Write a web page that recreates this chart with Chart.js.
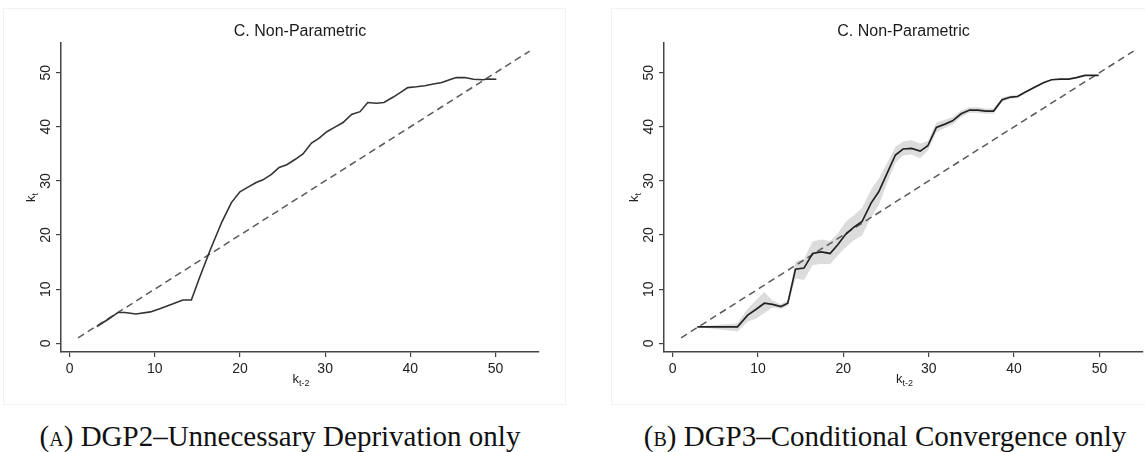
<!DOCTYPE html>
<html>
<head>
<meta charset="utf-8">
<script src="https://cdn.jsdelivr.net/npm/chart.js@4.4.1/dist/chart.umd.min.js"></script>
<style>
  html, body { margin: 0; padding: 0; background: #fff; }
  body { width: 1145px; height: 452px; position: relative; overflow: hidden; }
  .frame { position: absolute; border: 1px solid #f2f2f2; box-sizing: border-box; }
  canvas { position: absolute; top: 0; }
  .caption {
    position: absolute; top: 422px; text-align: center; white-space: nowrap; line-height: 29px;
    font-family: "Liberation Serif", "DejaVu Serif", serif; font-size: 29px; color: #111;
  }
  .sc { font-variant: small-caps; }
</style>
</head>
<body>
<div class="frame" style="left:3px; top:8px; width:563px; height:397px;"></div>
<div class="frame" style="left:611px; top:8px; width:540px; height:397px;"></div>
<canvas id="left" width="560" height="400" style="left:0px"></canvas>
<canvas id="right" width="545" height="400" style="left:600px"></canvas>
<div class="caption" style="left:20px; width:520px;">(<span class="sc">a</span>) DGP2–Unnecessary Deprivation only</div>
<div class="caption" style="left:625px; width:520px;">(<span class="sc">b</span>) DGP3–Conditional Convergence only</div>
<script>
// panel A: DGP2, non-parametric fit
const leftX = [3.2, 4.5, 5.7, 6.5, 7.8, 9.5, 10.6, 12.0, 13.3, 14.3, 15.3, 16.5, 17.9, 19.0, 20.0, 21.0, 21.9, 22.7, 23.7, 24.6,
  25.5, 26.5, 27.4, 28.4, 29.3, 30.2, 31.2, 32.1, 33.1, 34.1, 35.0, 36.0, 36.9, 38.0, 38.9, 39.7, 40.7, 41.7, 42.7, 43.7,
  44.6, 45.4, 46.4, 47.4, 48.5, 49.1, 50.1];
const leftY = [3.1, 4.4, 5.7, 5.7, 5.4, 5.8, 6.4, 7.2, 8.0, 8.0, 12.3, 17.2, 22.5, 26.0, 28.0, 28.9, 29.7, 30.2, 31.2, 32.5,
  33.0, 34.0, 35.0, 37.0, 37.9, 39.1, 40.0, 40.8, 42.3, 42.8, 44.5, 44.35, 44.5, 45.5, 46.4, 47.25, 47.4, 47.6, 47.9, 48.2,
  48.7, 49.1, 49.1, 48.8, 48.7, 48.85, 48.8];

// panel B: DGP3, fit with confidence band
const rightX = [2.9, 7.6, 8.8, 9.8, 10.75, 11.7, 12.7, 13.5, 14.4, 15.4, 16.4, 17.4, 18.45, 19.35, 20.25, 21.2, 22.2, 23.25,
  24.15, 25.1, 26.1, 27.0, 28.0, 29.0, 29.9, 30.9, 31.9, 32.8, 33.8, 34.8, 35.75, 36.7, 37.6, 38.6, 39.6, 40.4, 41.4, 42.4,
  43.5, 44.4, 45.4, 46.4, 47.3, 48.3, 49.2, 49.9];
const rightY = [3.05, 3.05, 5.2, 6.3, 7.4, 7.2, 6.8, 7.4, 13.7, 13.9, 16.6, 16.9, 16.6, 18.2, 20.1, 21.4, 22.5, 25.9,
  28.0, 31.3, 34.8, 35.9, 36.0, 35.5, 36.5, 39.9, 40.5, 41.1, 42.4, 43.1, 43.1, 42.9, 42.9, 45.0, 45.5, 45.6, 46.5, 47.3,
  48.2, 48.7, 48.8, 48.8, 49.1, 49.5, 49.5, 49.5];
const rightLo = [3.0, 2.2, 4.0, 4.6, 5.6, 6.6, 6.4, 6.9, 12.0, 11.7, 14.4, 14.7, 14.6, 16.2, 17.7, 19.0, 19.9, 23.3,
  25.5, 29.5, 33.3, 34.7, 34.9, 34.2, 35.6, 39.0, 39.8, 40.4, 41.8, 42.6, 42.6, 42.4, 42.4, 44.6, 45.2, 45.3, 46.3, 47.1,
  48.05, 48.6, 48.8, 48.8, 49.1, 49.5, 49.5, 49.5];
const rightHi = [3.1, 3.7, 6.4, 8.0, 9.5, 7.9, 7.2, 8.0, 15.1, 15.6, 18.8, 19.2, 18.9, 20.3, 22.4, 23.6, 25.0, 28.4,
  30.4, 33.2, 36.3, 37.3, 37.5, 36.9, 37.4, 40.8, 41.3, 41.8, 43.0, 43.6, 43.6, 43.4, 43.4, 45.4, 45.8, 45.9, 46.7, 47.5,
  48.35, 48.8, 48.8, 48.8, 49.1, 49.5, 49.5, 49.5];

// 45 degree reference line
const diagX = [1, 54];
const diagY = [1, 54];

const xTicks = [0, 10, 20, 30, 40, 50];
const yTicks = [0, 10, 20, 30, 40, 50];

const FONT = '"Liberation Sans", Arial, sans-serif';
const pts = (xs, ys) => xs.map((x, i) => ({ x: x, y: ys[i] }));

// draws rotated y tick labels and the subscripted axis titles, stata style
const stataText = {
  id: 'stataText',
  afterDraw(chart) {
    const ctx = chart.ctx;
    const area = chart.chartArea;
    const ys = chart.scales.y;
    ctx.save();
    ctx.fillStyle = '#222';
    ctx.font = '14px ' + FONT;
    ctx.textAlign = 'center';
    ctx.textBaseline = 'alphabetic';
    yTicks.forEach(v => {
      ctx.save();
      ctx.translate(area.left - 11, ys.getPixelForValue(v));
      ctx.rotate(-Math.PI / 2);
      ctx.fillText(String(v), 0, 0);
      ctx.restore();
    });
    drawSub(ctx, 'k', 't-2', (area.left + area.right) / 2 + 1, 383, 0);
    drawSub(ctx, 'k', 't', area.left - 26, (area.top + area.bottom) / 2, -Math.PI / 2);
    ctx.restore();
  }
};

function drawSub(ctx, main, sub, cx, cy, rot) {
  ctx.save();
  ctx.translate(cx, cy);
  ctx.rotate(rot);
  ctx.textAlign = 'left';
  ctx.font = '13px ' + FONT;
  const w1 = ctx.measureText(main).width;
  ctx.font = '9px ' + FONT;
  const w2 = ctx.measureText(sub).width;
  const x0 = -(w1 + w2) / 2;
  ctx.font = '13px ' + FONT;
  ctx.fillText(main, x0, 0);
  ctx.font = '9px ' + FONT;
  ctx.fillText(sub, x0 + w1, 3);
  ctx.restore();
}

function makeOptions(yAxisWidth, padRight) {
  return {
    responsive: false,
    animation: false,
    layout: { padding: { left: 0, right: padRight, top: 0, bottom: 0 } },
    plugins: {
      legend: { display: false },
      tooltip: { enabled: false },
      title: {
        display: true,
        text: 'C. Non-Parametric',
        fullSize: false,
        color: '#1a1a1a',
        font: { family: FONT, size: 16, weight: 'normal', lineHeight: 1.2 },
        padding: { top: 22, bottom: 1.8 }
      }
    },
    scales: {
      x: {
        type: 'linear',
        min: -1,
        max: 55.1,
        afterBuildTicks: s => { s.ticks = xTicks.map(v => ({ value: v })); },
        afterFit: s => { s.height = 48; },
        grid: { drawOnChartArea: false, drawTicks: true, tickLength: 5, color: '#444', lineWidth: 1.2 },
        border: { display: true, color: '#444', width: 1.5 },
        ticks: { color: '#222', font: { family: FONT, size: 14 }, padding: 4, maxRotation: 0, autoSkip: false }
      },
      y: {
        type: 'linear',
        min: -1.61,
        max: 55.49,
        afterBuildTicks: s => { s.ticks = yTicks.map(v => ({ value: v })); },
        afterFit: s => { s.width = yAxisWidth; },
        grid: { drawOnChartArea: false, drawTicks: true, tickLength: 5, color: '#444', lineWidth: 1.2 },
        border: { display: true, color: '#444', width: 1.5 },
        ticks: { color: 'rgba(0,0,0,0)', font: { family: FONT, size: 14 }, autoSkip: false }
      }
    }
  };
}

new Chart(document.getElementById('left'), {
  type: 'line',
  data: {
    datasets: [
      { data: pts(leftX, leftY), borderColor: '#333', borderWidth: 1.6, pointRadius: 0, tension: 0, fill: false, order: 0 },
      { data: pts(diagX, diagY), borderColor: '#5a5a5a', borderWidth: 1.5, borderDash: [7, 4.5], pointRadius: 0, fill: false, order: 1 }
    ]
  },
  options: makeOptions(61, 21),
  plugins: [stataText]
});

new Chart(document.getElementById('right'), {
  type: 'line',
  data: {
    datasets: [
      { data: pts(rightX, rightY), borderColor: '#222', borderWidth: 1.7, pointRadius: 0, tension: 0, fill: false, order: 0 },
      { data: pts(diagX, diagY), borderColor: '#5a5a5a', borderWidth: 1.5, borderDash: [7, 4.5], pointRadius: 0, fill: false, order: 1 },
      { data: pts(rightX, rightLo), borderWidth: 0, borderColor: 'rgba(0,0,0,0)', pointRadius: 0, fill: false, order: 3 },
      { data: pts(rightX, rightHi), borderWidth: 0, borderColor: 'rgba(0,0,0,0)', pointRadius: 0, fill: '-1', backgroundColor: '#dcdcdc', order: 2 }
    ]
  },
  options: makeOptions(64, 2),
  plugins: [stataText]
});
</script>
</body>
</html>
